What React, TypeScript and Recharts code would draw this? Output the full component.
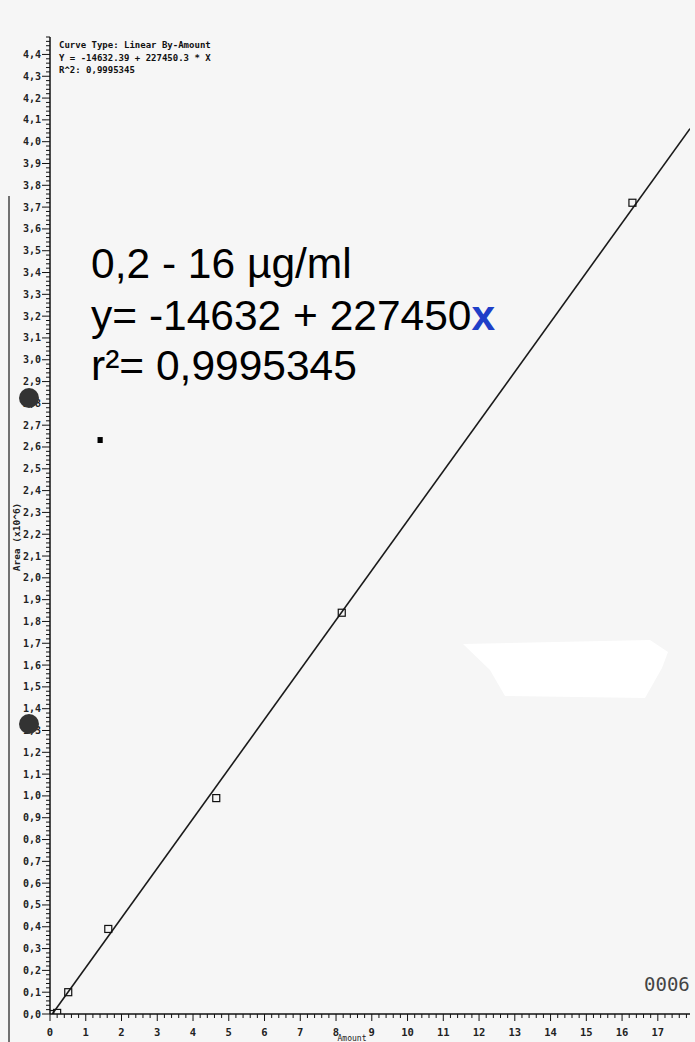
import React from 'react';
import { ComposedChart, XAxis, YAxis, Scatter, Line } from 'recharts';

// calibration points (amount in µg/ml, area in 10^6)
const amount = [0, 0.2, 0.51, 1.63, 4.65, 8.16, 16.29];
const area = [0, 0.005, 0.1, 0.39, 0.99, 1.84, 3.72];

// end points of the drawn regression line
const fitAmount = [0.064, 17.9];
const fitArea = [0, 4.06];

const equationLines = [
  'Curve Type: Linear By-Amount',
  'Y = -14632.39 + 227450.3 * X',
  'R^2: 0,9995345',
];

const X_MAX = 17.9;
const Y_MAX = 4.48;

// tick positions: major every 1 (x) / 0.1 (y), minor in between
const xTicks = Array.from({ length: 90 }, (_, i) => +(i * 0.2).toFixed(2));
const yTicks = Array.from({ length: 225 }, (_, i) => +(i * 0.02).toFixed(2));

const points = amount.map((x, i) => ({ x, y: area[i] }));
const fit = fitAmount.map((x, i) => ({ x, y: fitArea[i] }));

const mono = '"DejaVu Sans Mono", monospace';

const YTick = (props: any) => {
  const { x, y, payload } = props;
  const v = payload.value;
  const major = Math.abs(v * 10 - Math.round(v * 10)) < 1e-6;
  return (
    <g>
      <line x1={x - (major ? 8 : 4)} x2={x} y1={y} y2={y} stroke="#111" strokeWidth={1} />
      {major && (
        <text x={x - 9} y={y} dy={3.5} textAnchor="end" fontSize={10} fontWeight="bold" fontFamily={mono} fill="#222">
          {(Math.round(v * 10) / 10).toFixed(1).replace('.', ',')}
        </text>
      )}
    </g>
  );
};

const XTick = (props: any) => {
  const { x, y, payload } = props;
  const v = payload.value;
  const major = Math.abs(v - Math.round(v)) < 1e-6;
  return (
    <g>
      <line x1={x} x2={x} y1={y} y2={y + (major ? 7 : 4)} stroke="#111" strokeWidth={1} />
      {major && (
        <text x={x} y={y + 22} textAnchor="middle" fontSize={10.5} fontWeight="bold" fontFamily={mono} fill="#222">
          {Math.round(v)}
        </text>
      )}
    </g>
  );
};

const OpenSquare = (props: any) => {
  const { cx, cy } = props;
  return <rect x={cx - 3.5} y={cy - 3.5} width={7} height={7} fill="none" stroke="#111" strokeWidth={1.2} />;
};

export default function App() {
  return (
    <div style={{ position: 'absolute', left: 0, top: 0, width: 695, height: 1042, background: '#f6f6f6', overflow: 'hidden' }}>
      <ComposedChart width={695} height={1042} margin={{ top: 37, right: 5, bottom: 0, left: 0 }}>
        <XAxis
          dataKey="x"
          type="number"
          domain={[0, X_MAX]}
          ticks={xTicks}
          interval={0}
          tickSize={0}
          tickMargin={0}
          tick={<XTick />}
          height={28}
          axisLine={{ stroke: '#111', strokeWidth: 1.5 }}
          allowDataOverflow
        />
        <YAxis
          dataKey="y"
          type="number"
          domain={[0, Y_MAX]}
          ticks={yTicks}
          interval={0}
          tickSize={0}
          tickMargin={0}
          tick={<YTick />}
          width={50}
          axisLine={{ stroke: '#111', strokeWidth: 1.5 }}
          allowDataOverflow
        />
        <Line data={fit} dataKey="y" stroke="#1a1a1a" strokeWidth={1.6} dot={false} isAnimationActive={false} />
        <Scatter data={points} dataKey="y" shape={<OpenSquare />} isAnimationActive={false} />
      </ComposedChart>

      <svg width={695} height={1042} style={{ position: 'absolute', left: 0, top: 0, pointerEvents: 'none' }}>
        {/* scan artefacts: paper edge, white patch, punch holes */}
        <line x1={9} x2={9} y1={196} y2={1042} stroke="#444" strokeWidth={1.5} />
        <polygon points="463,644 650,640 668,652 662,668 645,698 505,696 490,670" fill="#ffffff" />
        <circle cx={29} cy={398} r={10} fill="#333" />
        <circle cx={29} cy={724} r={10} fill="#333" />

        {equationLines.map((t, i) => (
          <text key={t} x={59} y={48 + i * 12.5} fontSize={9} fontWeight="bold" fontFamily={mono} fill="#111">
            {t}
          </text>
        ))}

        <text x={17} y={537} transform="rotate(-90 17 537)" textAnchor="middle" dy={3} fontSize={9.5} fontWeight="bold" fontFamily={mono} fill="#222">
          Area (x10^6)
        </text>
        <text x={352} y={1041} textAnchor="middle" fontSize={8} fontFamily={mono} fill="#222">
          Amount
        </text>
        <text x={644} y={991} fontSize={19} fontFamily={mono} fill="#444">
          0006
        </text>

        <g fontFamily='"Liberation Sans", Arial, sans-serif' fontSize={42.5} fill="#000">
          <text x={91} y={278}>0,2 - 16 µg/ml</text>
          <text x={91} y={330}>
            y= -14632 + 227450<tspan fill="#1f3fc8" fontWeight="bold">x</tspan>
          </text>
          <text x={91} y={380}>r²= 0,9995345</text>
          <text x={92.5} y={443} fontSize={55}>.</text>
        </g>
      </svg>
    </div>
  );
}
